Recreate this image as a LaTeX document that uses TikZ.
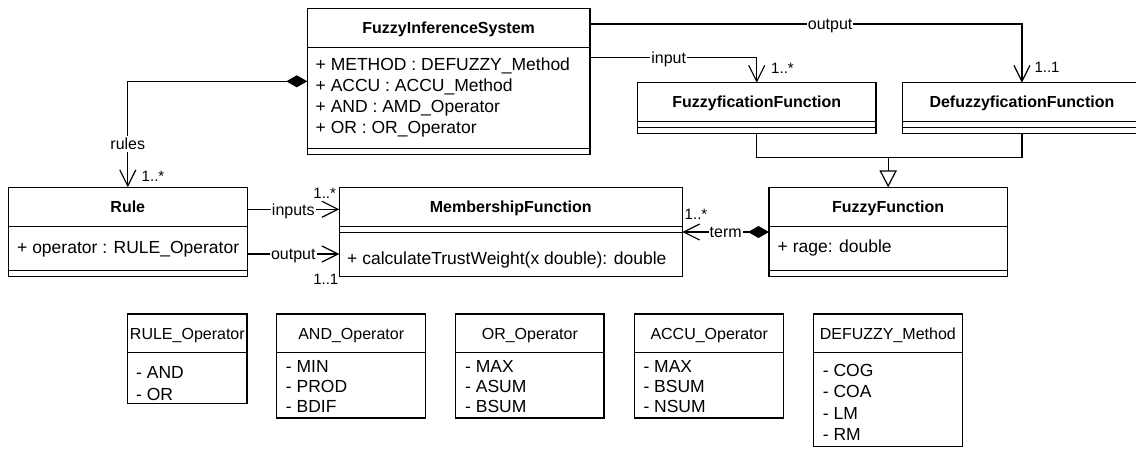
\documentclass[tikz,border=0pt]{standalone}
\usepackage{fontspec}
\setmainfont{Liberation Sans}
\usetikzlibrary{arrows.meta}

\tikzset{
  uml/.style={draw, line width=1.2pt, inner sep=0pt, outer sep=0pt},
  sepline/.style={line width=1.2pt},
  ttl/.style={font=\fontsize{16}{19}\selectfont\bfseries, inner sep=0pt, text height=11.5pt, text depth=0pt},
  enttl/.style={font=\fontsize{16}{19}\selectfont, inner sep=0pt, text height=11.5pt, text depth=0pt},
  attr/.style={font=\fontsize{17.5}{21}\selectfont, inner sep=0pt, anchor=west, text height=12.5pt, text depth=0pt},
  lbl/.style={font=\fontsize{16}{19}\selectfont, fill=white, inner xsep=1pt, inner ysep=2pt, text height=11.5pt, text depth=0pt},
  mult/.style={font=\fontsize{15}{18}\selectfont, inner sep=0pt, text height=10.7pt, text depth=0pt},
  conn/.style={line width=1.2pt, line join=miter},
  assoc/.style={conn, -{Straight Barb[length=16pt,width=16pt]}},
  compo/.style={conn, {Diamond[length=21pt,width=12pt]}-{Straight Barb[length=16pt,width=16pt]}},
  gen/.style={conn, -{Triangle[fill=white,length=17pt,width=17.4pt]}},
}

\begin{document}
\begin{tikzpicture}[x=1pt, y=-1pt]
\useasboundingbox (0,0) rectangle (1136,448);

% ---------- FuzzyInferenceSystem ----------
\node[uml, minimum width=282.7pt, minimum height=146pt] (fis) at (448.65,81.3) {};
\draw[sepline] ([yshift=-39pt]fis.north west) -- ([yshift=-39pt]fis.north east);
\draw[sepline] ([yshift=6pt]fis.south west) -- ([yshift=6pt]fis.south east);
\node[ttl] (fisT) at (448.65,28) {FuzzyInferenceSystem};
\node[attr] (fisA) at (315.5,64) {+ METHOD : DEFUZZY\_Method};
\node[attr] (fisB) at (315.5,85) {+ ACCU : ACCU\_Method};
\node[attr] (fisC) at (315.5,106) {+ AND : AMD\_Operator};
\node[attr] (fisD) at (315.5,127) {+ OR : OR\_Operator};

% ---------- FuzzyficationFunction ----------
\node[uml, minimum width=238.5pt, minimum height=50.6pt] (fuzz) at (756.75,108) {};
\draw[sepline] ([yshift=-39pt]fuzz.north west) -- ([yshift=-39pt]fuzz.north east);
\draw[sepline] ([yshift=-44.8pt]fuzz.north west) -- ([yshift=-44.8pt]fuzz.north east);
\node[ttl] (fuzzT) at (756.75,102.2) {FuzzyficationFunction};

% ---------- DefuzzyficationFunction ----------
\node[uml, minimum width=238.5pt, minimum height=50.6pt] (defz) at (1021.95,108) {};
\draw[sepline] ([yshift=-39pt]defz.north west) -- ([yshift=-39pt]defz.north east);
\draw[sepline] ([yshift=-44.8pt]defz.north west) -- ([yshift=-44.8pt]defz.north east);
\node[ttl] (defzT) at (1021.95,102.2) {DefuzzyficationFunction};

% ---------- Rule ----------
\node[uml, minimum width=239pt, minimum height=89.4pt] (rule) at (127.8,232) {};
\draw[sepline] ([yshift=-39pt]rule.north west) -- ([yshift=-39pt]rule.north east);
\draw[sepline] ([yshift=6pt]rule.south west) -- ([yshift=6pt]rule.south east);
\node[ttl] (ruleT) at (127.8,206.7) {Rule};
\node[attr] (ruleA) at (17,247) {+ operator : RULE\_Operator};

% ---------- MembershipFunction ----------
\node[uml, minimum width=343pt, minimum height=89.4pt] (mf) at (510.8,232) {};
\draw[sepline] ([yshift=-39pt]mf.north west) -- ([yshift=-39pt]mf.north east);
\draw[sepline] ([yshift=-45pt]mf.north west) -- ([yshift=-45pt]mf.north east);
\node[ttl] (mfT) at (510.8,206.7) {MembershipFunction};
\node[attr] (mfA) at (347,258) {+ calculateTrustWeight(x double): double};

% ---------- FuzzyFunction ----------
\node[uml, minimum width=238.3pt, minimum height=89.4pt] (ffun) at (888.15,232) {};
\draw[sepline] ([yshift=-39pt]ffun.north west) -- ([yshift=-39pt]ffun.north east);
\draw[sepline] ([yshift=6pt]ffun.south west) -- ([yshift=6pt]ffun.south east);
\node[ttl] (ffunT) at (888.15,206.7) {FuzzyFunction};
\node[attr] (ffunA) at (777.5,246) {+ rage: double};

% ---------- enumerations ----------
\node[uml, minimum width=119.3pt, minimum height=89.3pt] (ruleop) at (187.35,358.65) {};
\draw[sepline] ([yshift=-38.3pt]ruleop.north west) -- ([yshift=-38.3pt]ruleop.north east);
\node[enttl] (ruleopT) at (187.35,333.3) {RULE\_Operator};
\node[attr] (ruleop1) at (136,372.7) {- AND};
\node[attr] (ruleop2) at (136,394.3) {- OR};

\node[uml, minimum width=149pt, minimum height=104pt] (andop) at (351.2,366) {};
\draw[sepline] ([yshift=-38.3pt]andop.north west) -- ([yshift=-38.3pt]andop.north east);
\node[enttl] (andopT) at (351.2,333.3) {AND\_Operator};
\node[attr] (andop1) at (285.7,366.7) {- MIN};
\node[attr] (andop2) at (285.7,386.7) {- PROD};
\node[attr] (andop3) at (285.7,406.7) {- BDIF};

\node[uml, minimum width=148.3pt, minimum height=104pt] (orop) at (529.85,366) {};
\draw[sepline] ([yshift=-38.3pt]orop.north west) -- ([yshift=-38.3pt]orop.north east);
\node[enttl] (oropT) at (529.85,333.3) {OR\_Operator};
\node[attr] (orop1) at (465,366.7) {- MAX};
\node[attr] (orop2) at (465,386.7) {- ASUM};
\node[attr] (orop3) at (465,406.7) {- BSUM};

\node[uml, minimum width=149pt, minimum height=104pt] (accuop) at (709.2,366) {};
\draw[sepline] ([yshift=-38.3pt]accuop.north west) -- ([yshift=-38.3pt]accuop.north east);
\node[enttl] (accuopT) at (709.2,333.3) {ACCU\_Operator};
\node[attr] (accuop1) at (643.3,366.7) {- MAX};
\node[attr] (accuop2) at (643.3,386.7) {- BSUM};
\node[attr] (accuop3) at (643.3,406.7) {- NSUM};

\node[uml, minimum width=149pt, minimum height=132.7pt] (defm) at (887.8,380.35) {};
\draw[sepline] ([yshift=-38.3pt]defm.north west) -- ([yshift=-38.3pt]defm.north east);
\node[enttl] (defmT) at (887.8,333.3) {DEFUZZY\_Method};
\node[attr] (defm1) at (822.7,370) {- COG};
\node[attr] (defm2) at (822.7,391.7) {- COA};
\node[attr] (defm3) at (822.7,413.3) {- LM};
\node[attr] (defm4) at (822.7,434.3) {- RM};

% ---------- connectors ----------
% composition: FuzzyInferenceSystem -> Rule
\draw[compo] (fis.west) -| node[lbl, pos=0.796] (lrules) {rules} (rule.north);
\node[mult] (mrules) at (153,176) {1..*};

% FuzzyInferenceSystem -> FuzzyficationFunction
\draw[assoc] ([yshift=-49pt]fis.north east) -| node[lbl, pos=0.236] (linput) {input} (fuzz.north);
\node[mult] (minput) at (782.5,68) {1..*};

% FuzzyInferenceSystem -> DefuzzyficationFunction
\draw[assoc] ([yshift=-15.7pt]fis.north east) -| node[lbl, pos=0.278] (loutput) {output} (defz.north);
\node[mult] (moutput) at (1047,67.5) {1..1};

% Rule -> MembershipFunction
\draw[assoc] ([yshift=22.7pt]rule.east) -- node[lbl] (linputs) {inputs} ([yshift=22.7pt]mf.west);
\node[mult] (minputs) at (324.7,192.7) {1..*};
\draw[assoc] ([yshift=-22pt]rule.east) -- node[lbl] (lroutput) {output} ([yshift=-22pt]mf.west);
\node[mult] (mroutput) at (325.8,279.5) {1..1};

% composition: FuzzyFunction -> MembershipFunction
\draw[compo] (ffun.west) -- node[lbl] (lterm) {term} (mf.east);
\node[mult] (mterm) at (696,214) {1..*};

% generalization
\coordinate (gj) at ([yshift=30pt]ffun.north);
\draw[conn] (fuzz.south) |- (gj) -| (defz.south);
\draw[gen] (gj) -- (ffun.north);
\end{tikzpicture}
\end{document}
